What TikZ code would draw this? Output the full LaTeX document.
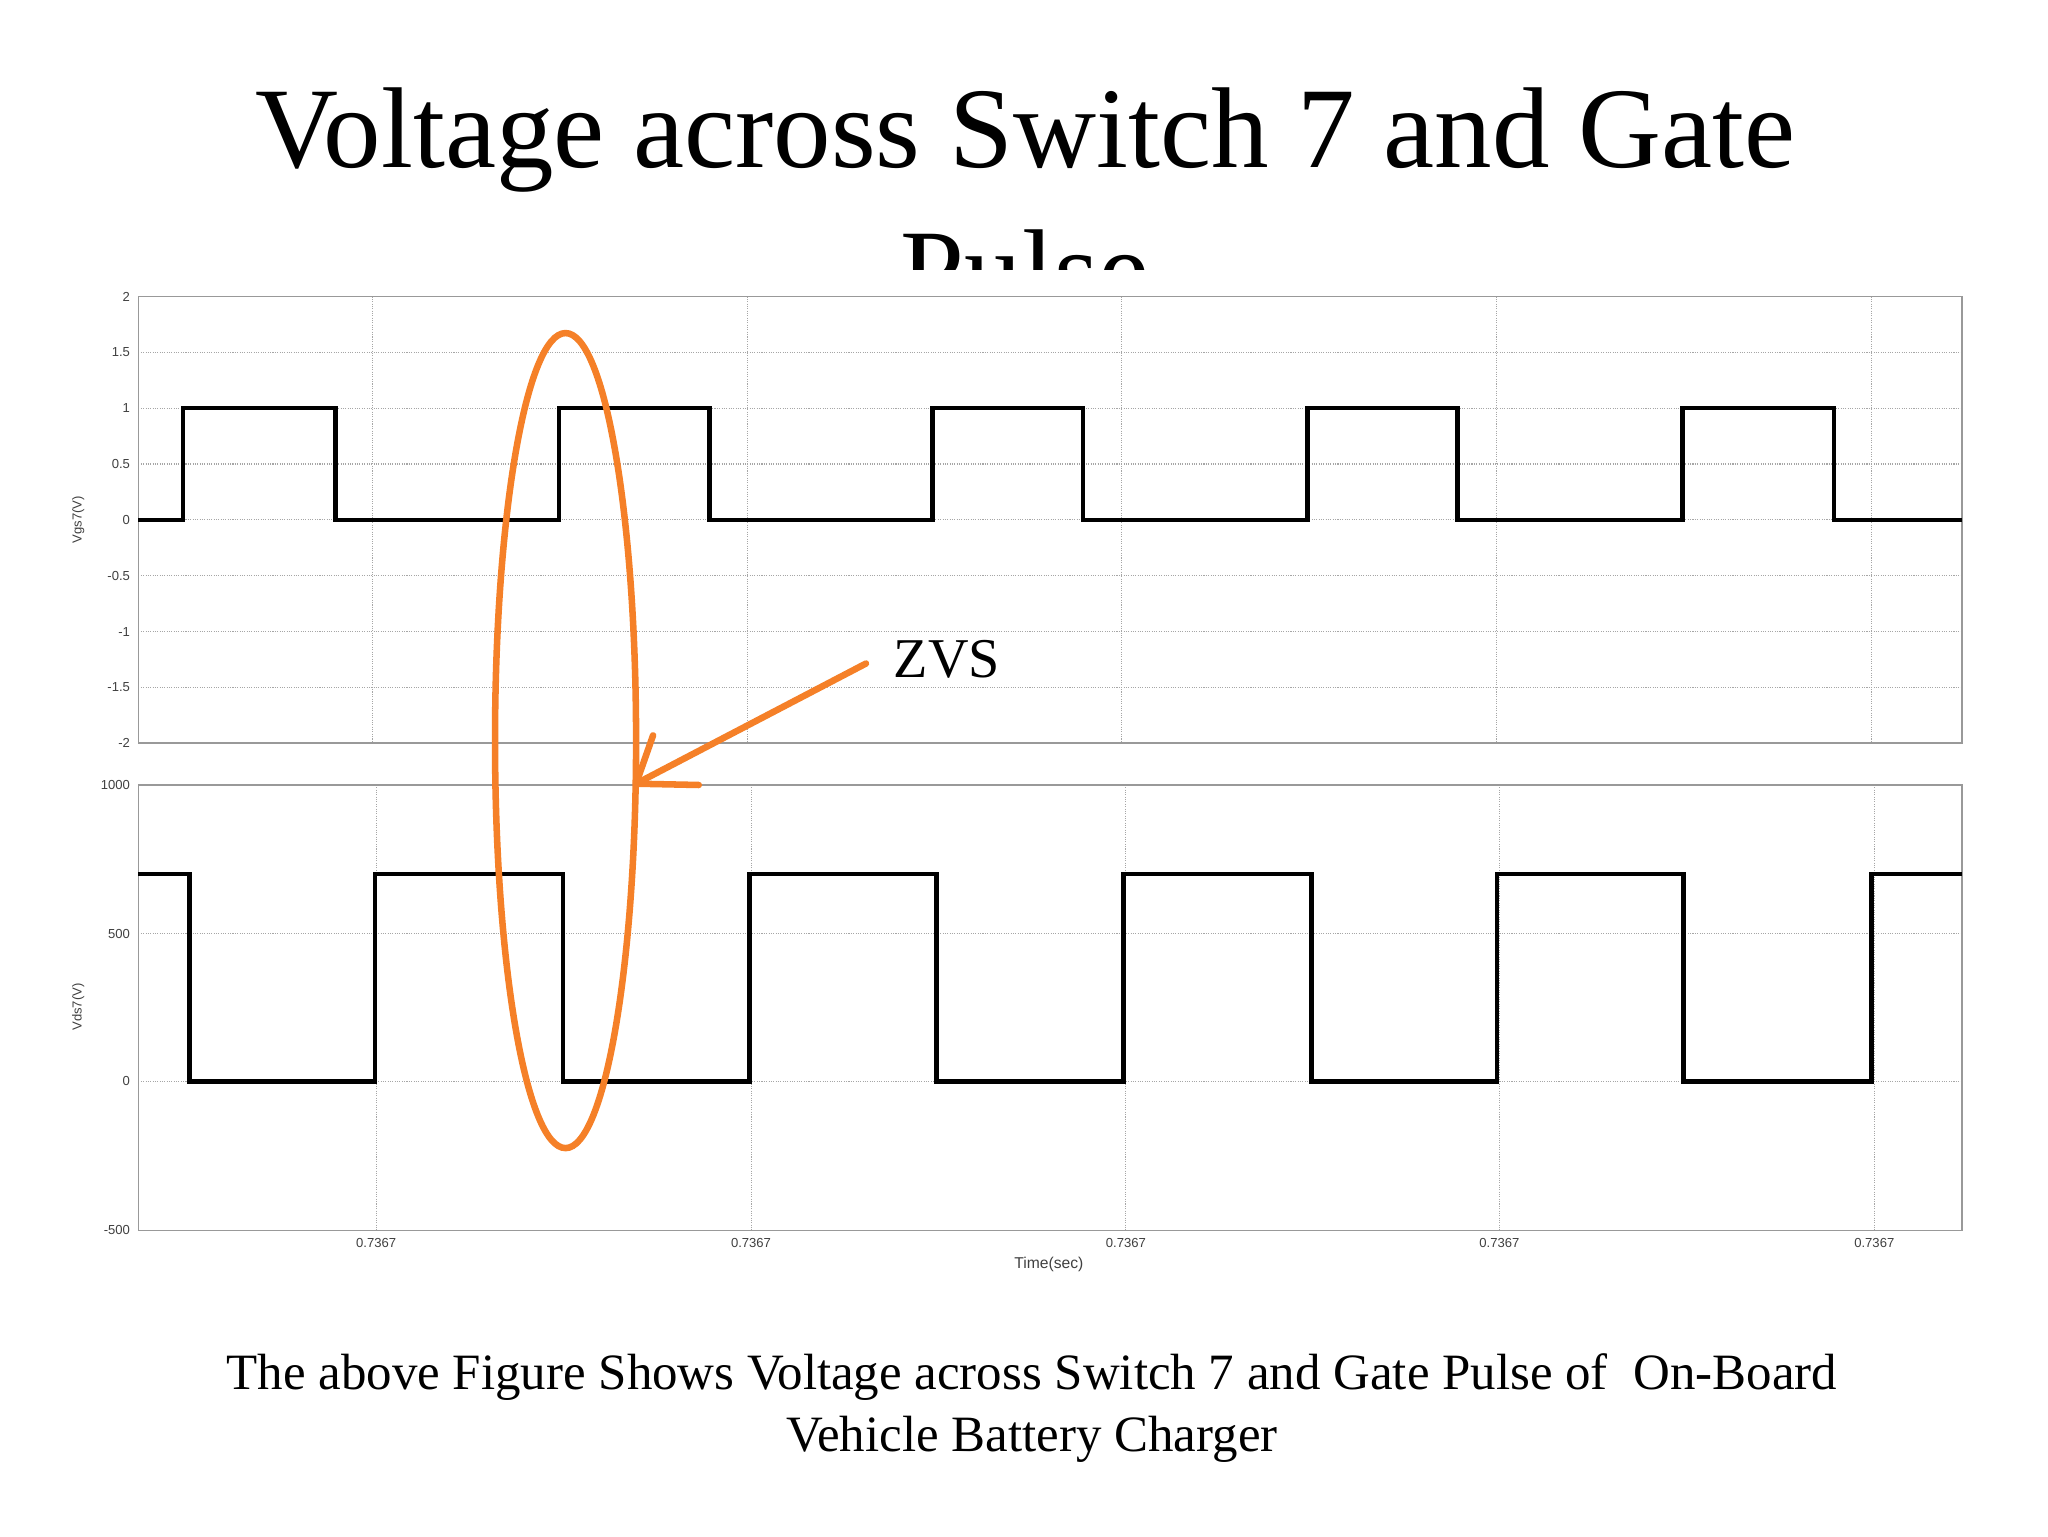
\documentclass[tikz,border=0pt]{standalone}
\usepackage{fontspec}
\setmainfont{Liberation Serif}
\newfontfamily\axf{Liberation Sans}
\usetikzlibrary{arrows.meta}
\definecolor{zvsorange}{RGB}{245,128,40}
\begin{document}
\begin{tikzpicture}[x=1pt,y=-1pt,
  grid/.style={gray!70,densely dotted,line width=0.8pt},
  frame/.style={gray!80,line width=1.2pt},
  sig/.style={black,line width=3.5pt,line join=miter},
  tk/.style={font=\axf\fontsize{10}{10}\selectfont,text=gray!50!black},
  zvs/.style={zvsorange,line width=5pt}]
\useasboundingbox (0,0) rectangle (1568,1176);
\fill[white] (0,0) rectangle (1568,1176);
\node[font=\fontsize{88}{108}\selectfont,align=center,anchor=north] (title) at (785,64) {Voltage across Switch 7 and Gate\\Pulse};
\fill[white] (0,207) rectangle (1568,1000);
% upper plot
\foreach \y in {269.75,312.5,355.25,398,440.75,483.5,526.25} \draw[grid] (106,\y) -- (1502,\y);
\foreach \x in {285,572,859,1146,1433} \draw[grid] (\x,227) -- (\x,569);
\draw[frame] (106,227) rectangle (1502,569);
\foreach \v/\y in {2/227,1.5/269.75,1/312.5,0.5/355.25,0/398,-0.5/440.75,-1/483.5,-1.5/526.25,-2/569}
  \node[tk,anchor=east] (u\y) at (103,\y) {\v};
\node[tk,rotate=90] (ylu) at (60,398) {Vgs7(V)};
\draw[sig] (106,398) -- (140,398) -- (140,312.5) -- (257,312.5) -- (257,398) -- (428,398) -- (428,312.5) -- (543,312.5) -- (543,398) -- (714,398) -- (714,312.5) -- (829,312.5) -- (829,398) -- (1001,398) -- (1001,312.5) -- (1116,312.5) -- (1116,398) -- (1288,398) -- (1288,312.5) -- (1404,312.5) -- (1404,398) -- (1502,398);
% lower plot
\foreach \y in {715,828} \draw[grid] (106,\y) -- (1502,\y);
\foreach \x in {288,575,862,1148,1435} \draw[grid] (\x,601) -- (\x,942);
\draw[frame] (106,601) rectangle (1502,942);
\foreach \v/\y in {1000/601,500/715,0/828,-500/942}
  \node[tk,anchor=east] (l\y) at (103,\y) {\v};
\foreach \x in {288,575,862,1148,1435} \node[tk] (t\x) at (\x,952) {0.7367};
\node[tk,font=\axf\fontsize{12}{12}\selectfont] (xl) at (803,968) {Time(sec)};
\node[tk,rotate=90] (yll) at (60,771) {Vds7(V)};
\draw[sig] (106,669) -- (145,669) -- (145,828) -- (287,828) -- (287,669) -- (431,669) -- (431,828) -- (574,828) -- (574,669) -- (717,669) -- (717,828) -- (860,828) -- (860,669) -- (1004,669) -- (1004,828) -- (1146,828) -- (1146,669) -- (1289,669) -- (1289,828) -- (1433,828) -- (1433,669) -- (1502,669);
% ZVS annotation
\draw[zvs] (433,567) ellipse [x radius=54,y radius=312];
\coordinate (as) at (663,508);
\coordinate (ae) at (487,600);
\draw[zvs,line cap=round] (as) -- (ae);
\draw[zvs,line cap=round] (ae) -- (535,601);
\draw[zvs,line cap=round] (ae) -- (500,563);
\node[font=\fontsize{43}{43}\selectfont] (zvs) at (725,505) {ZVS};
\node[font=\fontsize{39}{47}\selectfont,align=center] (cap) at (790,1078) {The above Figure Shows Voltage across Switch 7 and Gate Pulse of\ \ On-Board\\Vehicle Battery Charger};
\end{tikzpicture}
\end{document}
